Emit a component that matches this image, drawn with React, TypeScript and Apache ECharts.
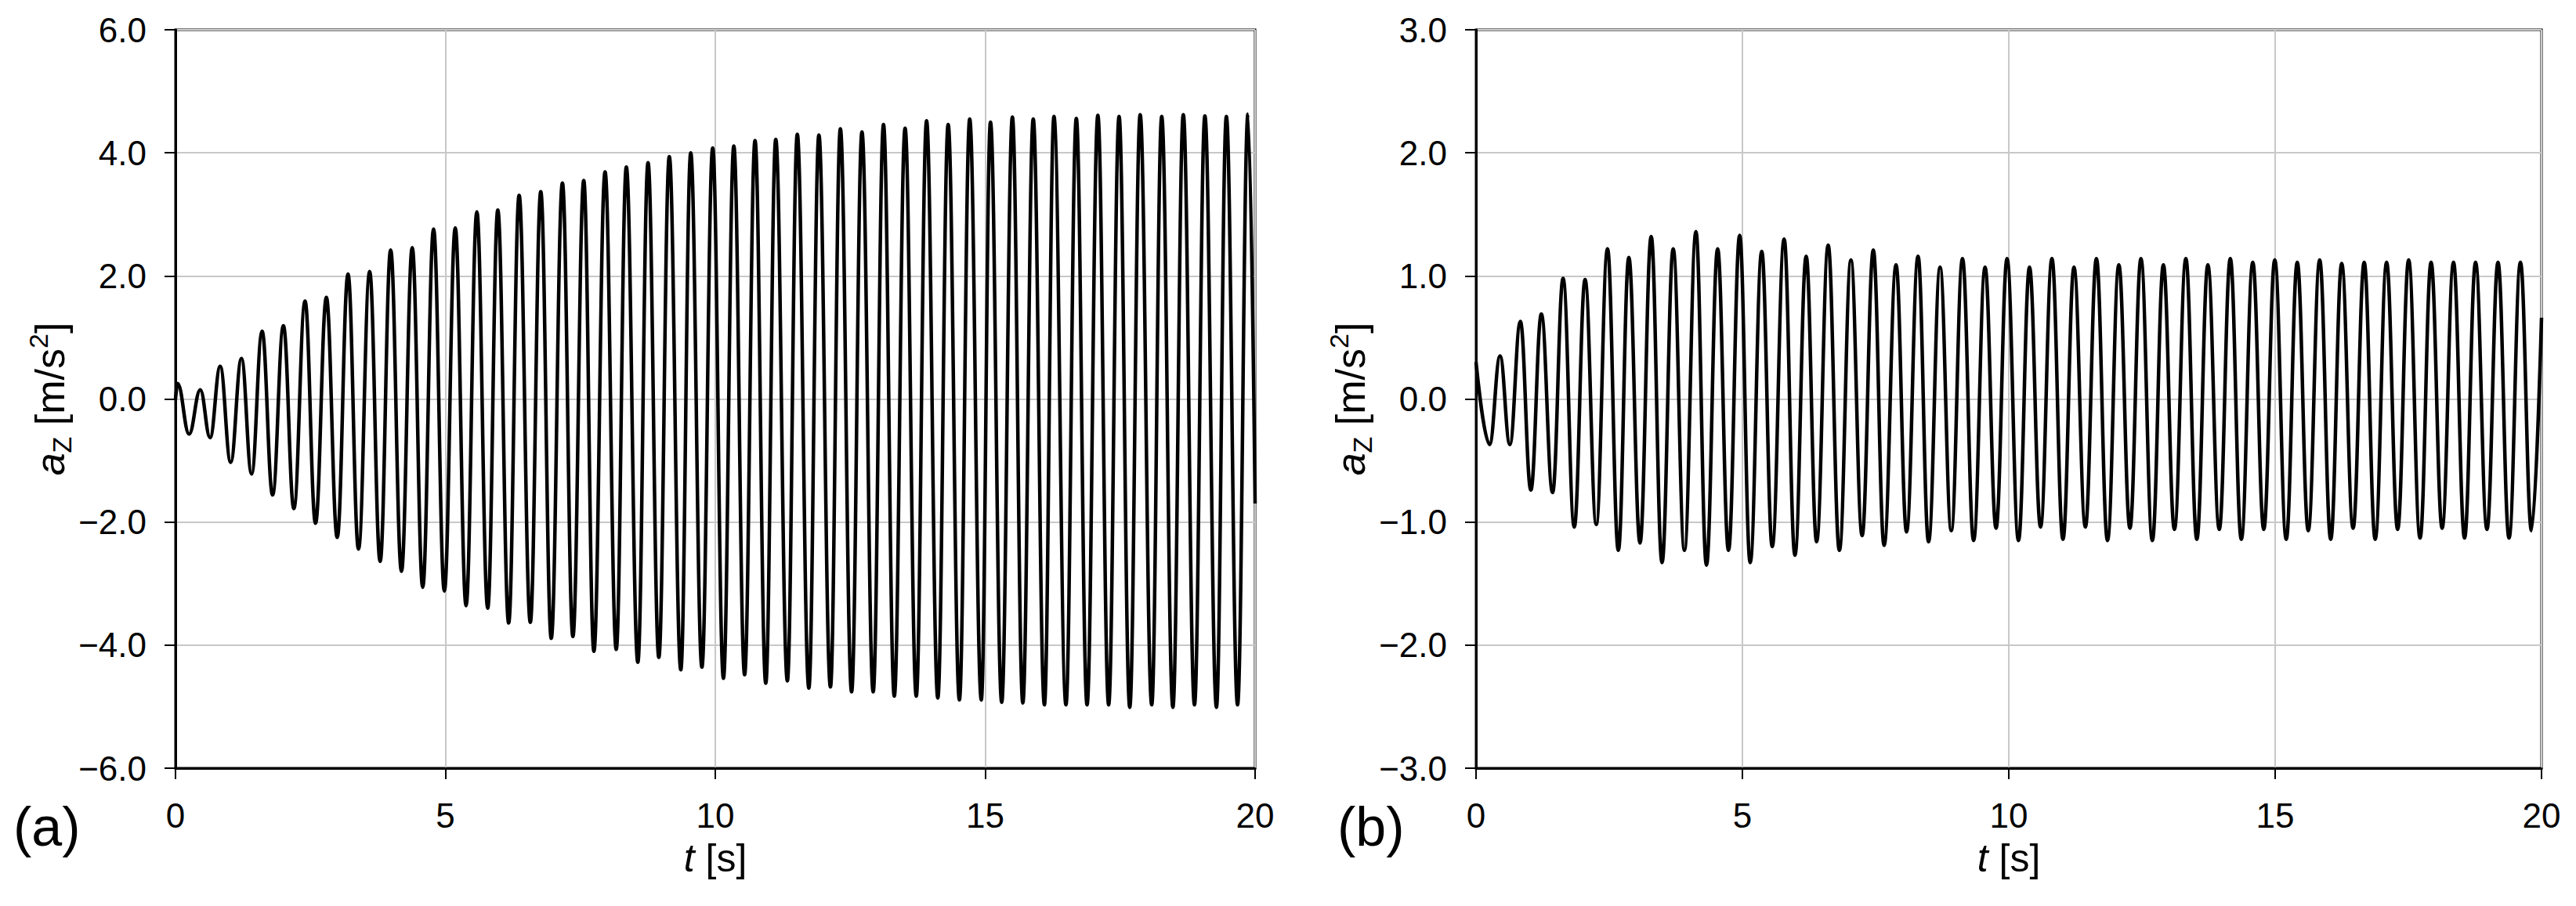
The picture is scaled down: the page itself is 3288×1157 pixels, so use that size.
import React, { useEffect, useRef } from "react";
import * as echarts from "echarts";

// ---- data (times of extrema in s, values in m/s^2) ----
const xTicks = [0, 5, 10, 15, 20];
const yTicksA = [-6, -4, -2, 0, 2, 4, 6];
const yTicksB = [-3, -2, -1, 0, 1, 2, 3];
const panelLabels = ["(a)", "(b)"];

const aTimes = [
  0, 0.04, 0.252, 0.459, 0.641, 0.828, 1.022, 1.222, 1.41, 1.604, 1.799, 1.999,
  2.193, 2.4, 2.594, 2.795, 2.996, 3.196, 3.39, 3.597, 3.791, 3.986, 4.186, 4.386,
  4.58, 4.781, 4.981, 5.183, 5.383, 5.583, 5.784, 5.971, 6.172, 6.366, 6.573, 6.767,
  6.961, 7.168, 7.362, 7.563, 7.751, 7.958, 8.165, 8.352, 8.565, 8.754, 8.954, 9.148,
  9.361, 9.545, 9.752, 9.952, 10.151, 10.343, 10.543, 10.736, 10.935, 11.12, 11.335, 11.519,
  11.733, 11.919, 12.133, 12.317, 12.525, 12.717, 12.925, 13.116, 13.316, 13.516, 13.723, 13.914,
  14.122, 14.314, 14.522, 14.713, 14.928, 15.098, 15.306, 15.504, 15.697, 15.89, 16.097, 16.274,
  16.496, 16.688, 16.887, 17.087, 17.287, 17.48, 17.678, 17.871, 18.085, 18.27, 18.477, 18.67,
  18.877, 19.07, 19.284, 19.468, 19.675, 19.868, 20.0,
];
const aValues = [
  0.0, 0.25, -0.57, 0.15, -0.63, 0.53, -1.03, 0.66, -1.22, 1.1, -1.56, 1.19,
  -1.78, 1.59, -2.02, 1.65, -2.25, 2.03, -2.44, 2.07, -2.64, 2.42, -2.8, 2.46,
  -3.06, 2.76, -3.12, 2.78, -3.36, 3.04, -3.4, 3.07, -3.64, 3.31, -3.63, 3.37,
  -3.89, 3.51, -3.86, 3.55, -4.1, 3.69, -4.07, 3.77, -4.28, 3.84, -4.2, 3.94,
  -4.4, 4.0, -4.36, 4.08, -4.54, 4.11, -4.48, 4.2, -4.62, 4.22, -4.58, 4.3,
  -4.7, 4.29, -4.68, 4.39, -4.76, 4.34, -4.76, 4.46, -4.83, 4.4, -4.83, 4.52,
  -4.86, 4.46, -4.89, 4.55, -4.89, 4.5, -4.93, 4.58, -4.94, 4.55, -4.97, 4.59,
  -4.97, 4.56, -4.97, 4.61, -4.97, 4.59, -5.01, 4.62, -4.97, 4.59, -5.01, 4.62,
  -4.97, 4.6, -5.01, 4.59, -4.97, 4.63, -1.7,
];

const bTimes = [
  0, 0.254, 0.451, 0.635, 0.832, 1.029, 1.226, 1.437, 1.634, 1.844, 2.047, 2.257,
  2.468, 2.671, 2.868, 3.078, 3.288, 3.491, 3.701, 3.912, 4.128, 4.325, 4.535, 4.739,
  4.949, 5.146, 5.363, 5.56, 5.783, 5.986, 6.197, 6.393, 6.61, 6.82, 7.037, 7.247,
  7.457, 7.66, 7.884, 8.081, 8.297, 8.494, 8.71, 8.921, 9.131, 9.34, 9.555, 9.761,
  9.968, 10.182, 10.389, 10.596, 10.81, 11.017, 11.224, 11.438, 11.645, 11.853, 12.066, 12.274,
  12.481, 12.695, 12.902, 13.109, 13.324, 13.53, 13.737, 13.951, 14.158, 14.365, 14.58, 14.786,
  14.993, 15.208, 15.415, 15.621, 15.836, 16.043, 16.249, 16.463, 16.671, 16.878, 17.092, 17.299,
  17.506, 17.72, 17.927, 18.134, 18.348, 18.555, 18.762, 18.976, 19.183, 19.39, 19.604, 19.811,
  20.0,
];
const bValues = [
  0.3, -0.37, 0.35, -0.37, 0.63, -0.74, 0.69, -0.76, 0.98, -1.04, 0.97, -1.02,
  1.22, -1.23, 1.15, -1.17, 1.32, -1.33, 1.22, -1.23, 1.36, -1.35, 1.22, -1.23,
  1.33, -1.33, 1.2, -1.2, 1.3, -1.27, 1.16, -1.16, 1.25, -1.23, 1.13, -1.11,
  1.21, -1.19, 1.09, -1.08, 1.16, -1.16, 1.07, -1.07, 1.14, -1.15, 1.07, -1.05,
  1.14, -1.15, 1.07, -1.04, 1.14, -1.14, 1.07, -1.04, 1.14, -1.15, 1.09, -1.05,
  1.14, -1.15, 1.09, -1.06, 1.14, -1.14, 1.09, -1.06, 1.14, -1.14, 1.11, -1.06,
  1.13, -1.14, 1.11, -1.07, 1.13, -1.14, 1.1, -1.05, 1.11, -1.14, 1.11, -1.06,
  1.13, -1.13, 1.11, -1.05, 1.11, -1.13, 1.11, -1.06, 1.11, -1.13, 1.11, -1.07,
  0.66,
];

const FONT = '"Liberation Sans", Arial, Helvetica, sans-serif';

function zip(t: number[], v: number[]) {
  return t.map((x, i) => [x, v[i]]);
}

function fmt(v: number) {
  return v.toFixed(1).replace("-", "\u2212");
}

function xAxisCfg(gridIndex: number) {
  return {
    type: "value",
    gridIndex,
    min: xTicks[0],
    max: xTicks[xTicks.length - 1],
    interval: xTicks[1] - xTicks[0],
    axisLine: { show: true, onZero: false, lineStyle: { color: "#000", width: 3 } },
    axisTick: { show: true, length: 14, lineStyle: { color: "#000", width: 2 } },
    axisLabel: { fontSize: 44, fontFamily: FONT, color: "#000", margin: 38 },
    splitLine: { show: true, lineStyle: { color: "#c8c8c8", width: 2 } },
    name: "{i|t} [s]",
    nameLocation: "middle",
    nameGap: 80,
    nameTextStyle: {
      fontSize: 50,
      fontFamily: FONT,
      color: "#000",
      lineHeight: 56,
      rich: {
        i: { fontSize: 50, fontFamily: FONT, fontStyle: "italic", color: "#000", lineHeight: 56 },
      },
    },
  };
}

function yAxisCfg(gridIndex: number, ticks: number[]) {
  return {
    type: "value",
    gridIndex,
    min: ticks[0],
    max: ticks[ticks.length - 1],
    interval: ticks[1] - ticks[0],
    axisLine: { show: true, onZero: false, lineStyle: { color: "#000", width: 3 } },
    axisTick: { show: true, length: 14, lineStyle: { color: "#000", width: 2 } },
    axisLabel: { fontSize: 44, fontFamily: FONT, color: "#000", margin: 37, formatter: fmt },
    splitLine: { show: true, lineStyle: { color: "#c8c8c8", width: 2 } },
    name: "{i|a}{sub|Z} [m/s{sup|2}]",
    nameLocation: "middle",
    nameRotate: 90,
    nameGap: 88,
    nameTextStyle: {
      fontSize: 52,
      fontFamily: FONT,
      color: "#000",
      lineHeight: 64,
      rich: {
        i: { fontSize: 52, fontFamily: FONT, fontStyle: "italic", color: "#000", lineHeight: 64, verticalAlign: "middle" },
        sub: { fontSize: 34, fontFamily: FONT, color: "#000", lineHeight: 30, verticalAlign: "bottom" },
        sup: { fontSize: 34, fontFamily: FONT, color: "#000", lineHeight: 30, verticalAlign: "top" },
      },
    },
  };
}

export default function App() {
  const ref = useRef<HTMLDivElement>(null);

  useEffect(() => {
    if (!ref.current) return;
    const chart = echarts.init(ref.current, undefined, { renderer: "svg" });
    const option: any = {
      animation: false,
      backgroundColor: "#fff",
      grid: [
        { left: 224, top: 38, width: 1378, height: 943, show: true, borderColor: "#000", borderWidth: 3, backgroundColor: "transparent" },
        { left: 1884, top: 38, width: 1360, height: 943, show: true, borderColor: "#000", borderWidth: 3, backgroundColor: "transparent" },
      ],
      xAxis: [xAxisCfg(0), xAxisCfg(1)],
      yAxis: [yAxisCfg(0, yTicksA), yAxisCfg(1, yTicksB)],
      series: [
        {
          type: "line",
          xAxisIndex: 0,
          yAxisIndex: 0,
          data: zip(aTimes, aValues),
          showSymbol: false,
          symbol: "none",
          smooth: 0.4,
          smoothMonotone: "x",
          lineStyle: { color: "#000", width: 4.5 },
          z: 3,
        },
        {
          type: "line",
          xAxisIndex: 1,
          yAxisIndex: 1,
          data: zip(bTimes, bValues),
          showSymbol: false,
          symbol: "none",
          smooth: 0.4,
          smoothMonotone: "x",
          lineStyle: { color: "#000", width: 4.5 },
          z: 3,
        },
      ],
      graphic: [
        {
          type: "text",
          x: 17,
          y: 1056,
          style: { text: panelLabels[0], font: `70px ${FONT}`, fill: "#000", align: "left", verticalAlign: "middle", textAlign: "left", textVerticalAlign: "middle" },
        },
        {
          type: "text",
          x: 1707,
          y: 1056,
          style: { text: panelLabels[1], font: `70px ${FONT}`, fill: "#000", align: "left", verticalAlign: "middle", textAlign: "left", textVerticalAlign: "middle" },
        },
      ],
    };
    chart.setOption(option);
    return () => chart.dispose();
  }, []);

  return (
    <div
      ref={ref}
      style={{ position: "fixed", left: 0, top: 0, width: 3288, height: 1157, background: "#fff" }}
    />
  );
}
